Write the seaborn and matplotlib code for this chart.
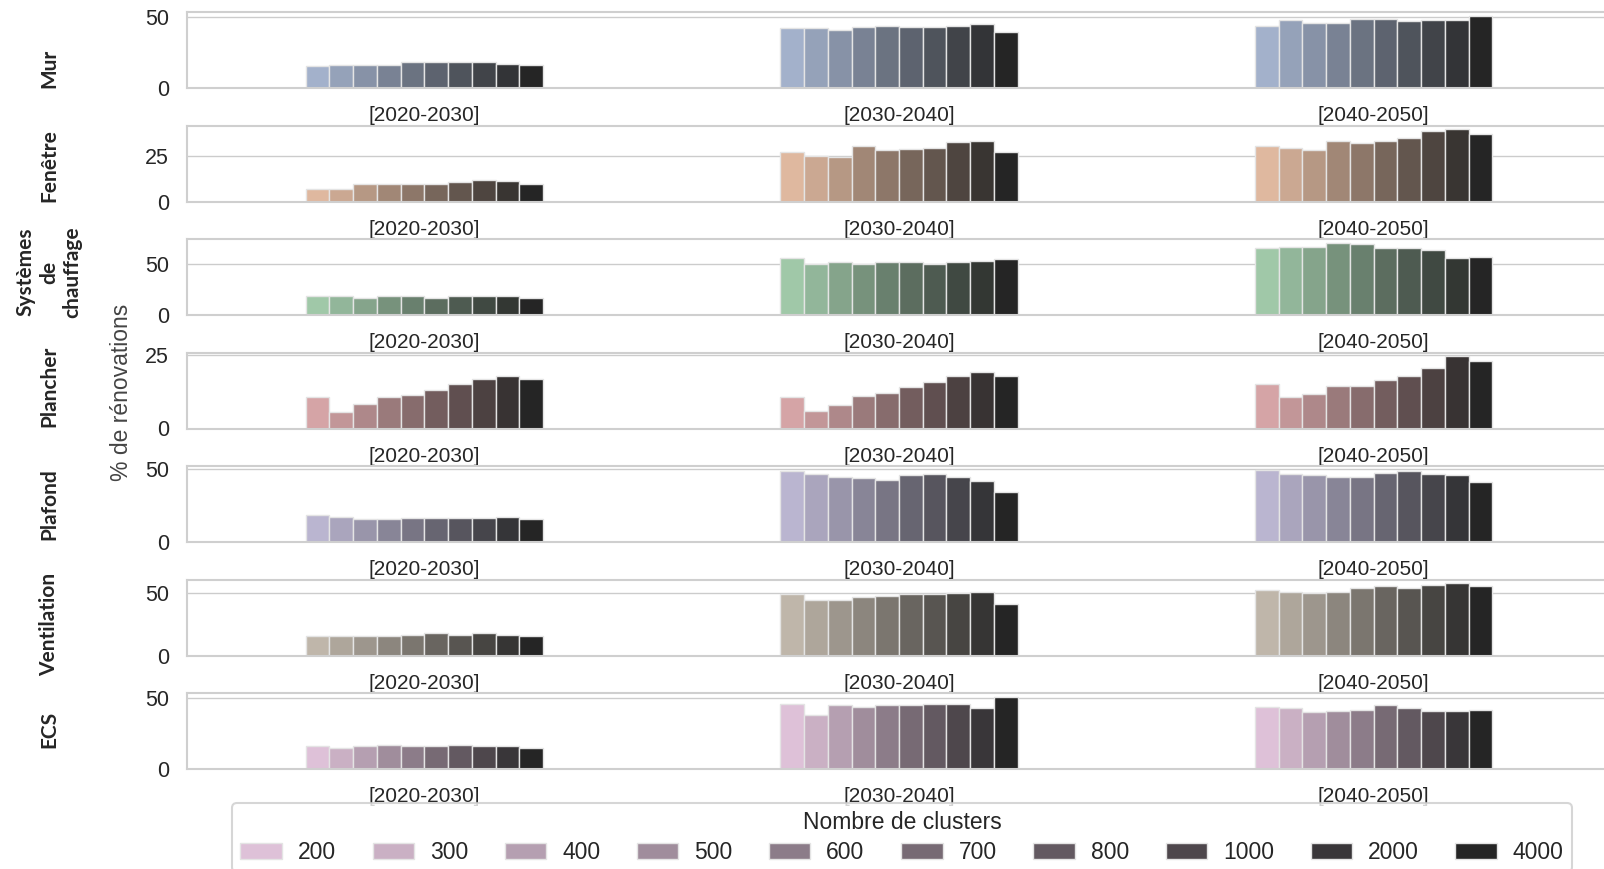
import numpy as np
import pandas as pd
import matplotlib
matplotlib.use('Agg')
import matplotlib.pyplot as plt
import seaborn as sns
from matplotlib.ticker import MultipleLocator

# --- Données ---
periodes = ['[2020-2030]', '[2030-2040]', '[2040-2050]']
clusters = ['200', '300', '400', '500', '600', '700', '800', '1000', '2000', '4000']

# % de rénovations : une liste par période, dans l'ordre des clusters
mur = [
    [15.3, 16.3, 16.3, 16.3, 18.2, 18.2, 18.2, 18.4, 17.2, 16.3],
    [42.3, 42.3, 41.3, 43.2, 44.2, 43.2, 43.2, 44.2, 45.4, 39.4],
    [44.2, 48.1, 46.1, 46.1, 49.0, 49.0, 47.1, 48.1, 48.1, 51.0],
]
fenetre = [
    [6.6, 6.6, 9.8, 9.8, 9.8, 9.8, 10.5, 11.8, 11.1, 9.8],
    [27.3, 25.0, 24.2, 30.4, 28.1, 28.8, 29.6, 32.7, 33.5, 27.3],
    [30.4, 29.6, 28.1, 33.5, 31.9, 33.5, 35.0, 38.8, 39.6, 37.3],
]
chauffage = [
    [18.1, 18.1, 16.8, 18.1, 18.1, 16.8, 18.1, 18.1, 18.1, 16.8],
    [55.3, 50.0, 51.3, 50.0, 51.3, 51.3, 50.0, 51.3, 52.7, 54.0],
    [64.7, 66.0, 66.0, 70.0, 68.7, 64.7, 64.7, 63.3, 55.3, 56.7],
]
plancher = [
    [10.5, 5.6, 8.2, 10.5, 11.5, 13.0, 15.0, 16.8, 17.8, 16.8],
    [10.5, 5.8, 8.1, 11.1, 12.0, 13.9, 15.8, 17.7, 19.1, 17.7],
    [14.9, 10.5, 11.6, 14.4, 14.4, 16.3, 17.7, 20.5, 24.4, 22.9],
]
plafond = [
    [18.3, 17.4, 15.5, 15.5, 16.4, 16.4, 16.4, 16.4, 17.4, 15.5],
    [48.6, 46.9, 44.8, 43.9, 42.9, 45.8, 46.7, 44.8, 42.0, 34.4],
    [49.5, 46.9, 46.0, 44.8, 44.8, 47.6, 48.6, 46.7, 45.8, 41.0],
]
ventilation = [
    [15.4, 15.4, 15.4, 15.4, 16.5, 17.9, 16.5, 17.9, 16.5, 15.4],
    [48.9, 44.5, 44.5, 46.7, 47.8, 48.9, 48.9, 50.0, 51.1, 41.2],
    [52.2, 51.1, 50.0, 51.1, 54.4, 55.5, 54.4, 56.6, 57.7, 55.5],
]
ecs = [
    [16.1, 15.1, 16.1, 17.1, 16.1, 16.1, 17.1, 16.1, 16.1, 15.1],
    [46.3, 38.3, 45.0, 44.0, 45.0, 45.0, 46.0, 46.0, 43.0, 51.0],
    [44.0, 43.0, 40.0, 41.0, 42.0, 45.0, 43.0, 41.0, 41.0, 42.0],
]

postes = ['Mur', 'Fenêtre', 'Systèmes\nde\nchauffage', 'Plancher', 'Plafond', 'Ventilation', 'ECS']
valeurs = [mur, fenetre, chauffage, plancher, plafond, ventilation, ecs]
couleurs_claires = ['#a3b1cb', '#dfb89f', '#a0c8a8', '#d5a4a6', '#bab5d0', '#bfb6aa', '#dec1d8']
pas_ticks = [50, 25, 50, 25, 50, 50, 50]

# --- Mise en page ---
sns.set_theme(style='whitegrid')
plt.rcParams['font.family'] = ['Liberation Sans', 'DejaVu Sans']

W, H = 1604, 869
fig = plt.figure(figsize=(W / 100, H / 100), dpi=100)

ax_left, ax_width = 187 / W, 1424 / W
ax_h = 75.7
label_y = [68, 166, 272, 386, 504, 624, 729]

handles, labels = None, None
for i, (poste, vals) in enumerate(zip(postes, valeurs)):
    top = 12.3 + 113.5 * i
    ax = fig.add_axes([ax_left, 1 - (top + ax_h) / H, ax_width, ax_h / H])

    df = pd.DataFrame({
        'periode': np.repeat(periodes, len(clusters)),
        'clusters': clusters * len(periodes),
        'pct': np.concatenate(vals),
    })
    pal = sns.blend_palette([couleurs_claires[i], '#252525'], len(clusters))
    last = i == len(postes) - 1
    sns.barplot(data=df, x='periode', y='pct', hue='clusters',
                order=periodes, hue_order=clusters, palette=pal, saturation=1,
                width=0.5, errorbar=None, edgecolor='#e4e4e4', linewidth=1,
                ax=ax, legend=last)
    ax.set_xlabel('')
    ax.set_ylabel('')
    ax.set_xlim(-0.5, 2.5)
    ax.yaxis.set_major_locator(MultipleLocator(pas_ticks[i]))
    ax.tick_params(axis='x', labelsize=15, pad=7, colors='#262626')
    ax.tick_params(axis='y', labelsize=15.5, pad=7, colors='#262626')
    for sp in ax.spines.values():
        sp.set_color('#cfcfcf')
        sp.set_linewidth(1.5)

    fig.text(49 / W, 1 - label_y[i] / H, poste, rotation=90, ha='center', va='center',
             fontsize=15, fontweight='bold', family=['Lato', 'DejaVu Sans'],
             multialignment='center', linespacing=1.2)

    if last:
        handles, labels = ax.get_legend_handles_labels()
        ax.get_legend().remove()

fig.text(121 / W, 1 - 392 / H, '% de rénovations', rotation=90, ha='center', va='center',
         fontsize=16.5, color='#444444')

leg = fig.legend(handles, labels, title='Nombre de clusters', ncol=len(clusters),
                 loc='upper center', bbox_to_anchor=(902 / W, 1 - 803 / H),
                 borderaxespad=0, fontsize=16.5, title_fontsize=16.5, frameon=True,
                 edgecolor='#cccccc', handlelength=1.8, handletextpad=0.7,
                 columnspacing=1.6, borderpad=0.35, labelspacing=0.3)
leg.get_frame().set_linewidth(1.5)

fig.savefig('out.png', dpi=100)
